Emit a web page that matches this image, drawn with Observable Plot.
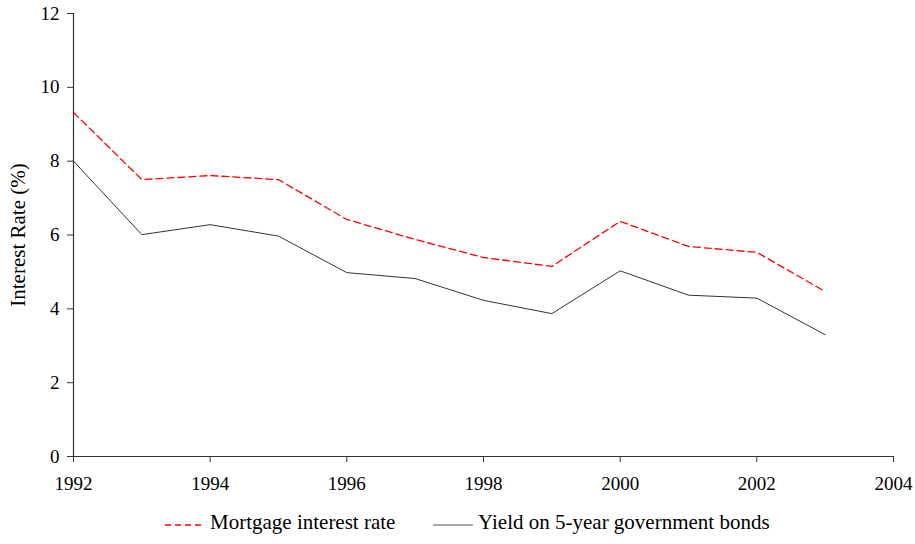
<!DOCTYPE html>
<html>
<head>
<meta charset="utf-8">
<script src="https://cdn.jsdelivr.net/npm/d3@7"></script>
<script src="https://cdn.jsdelivr.net/npm/@observablehq/plot@0.6"></script>
<style>
  body { margin: 0; background: #fff; }
  #chart { width: 915px; }
  .legend { position: relative; height: 39px; font-family: "Liberation Serif", serif; font-size: 21px; color: #000; }
  .legend svg { position: absolute; top: 15px; display: block; }
  .legend span { position: absolute; top: 5px; line-height: 24px; white-space: nowrap; }
</style>
</head>
<body>
<div id="chart"></div>
<script>
const years = [1992, 1993, 1994, 1995, 1996, 1997, 1998, 1999, 2000, 2001, 2002, 2003];
const mortgage = [9.32, 7.50, 7.61, 7.50, 6.42, 5.88, 5.39, 5.15, 6.37, 5.69, 5.53, 4.47];
const bonds = [8.00, 6.01, 6.28, 5.97, 4.98, 4.82, 4.23, 3.87, 5.03, 4.37, 4.29, 3.30];
const xTicks = [1992, 1994, 1996, 1998, 2000, 2002, 2004];
const yTicks = [0, 2, 4, 6, 8, 10, 12];
const seriesNames = ["Mortgage interest rate", "Yield on 5-year government bonds"];

const mData = years.map((y, i) => ({year: y, value: mortgage[i]}));
const bData = years.map((y, i) => ({year: y, value: bonds[i]}));

const plot = Plot.plot({
  width: 915,
  height: 505,
  marginLeft: 73,
  marginRight: 22,
  marginTop: 13,
  marginBottom: 49,
  style: {fontFamily: "Liberation Serif, serif", fontSize: "19px", color: "#000", background: "#fff"},
  x: {domain: [1992, 2004]},
  y: {domain: [0, 12]},
  marks: [
    Plot.axisX({ticks: xTicks, tickFormat: d3.format("d"), tickSize: 6, tickPadding: 14, label: null, stroke: "#333", fontSize: 19}),
    Plot.axisY({ticks: yTicks, tickSize: 6, tickPadding: 8, label: null, stroke: "#333", fontSize: 19}),
    Plot.text(["Interest Rate (%)"], {frameAnchor: "left", textAnchor: "middle", dx: -55, rotate: -90, fontSize: 21, fill: "#000"}),
    Plot.ruleY([0], {stroke: "#333", strokeWidth: 1.2}),
    Plot.ruleX([1992], {stroke: "#333", strokeWidth: 1.2}),
    Plot.line(bData, {x: "year", y: "value", stroke: "#333", strokeWidth: 1}),
    Plot.line(mData, {x: "year", y: "value", stroke: "#ff0000", strokeWidth: 1.3, strokeDasharray: "7,4"})
  ]
});
document.getElementById("chart").appendChild(plot);

const legend = document.createElement("div");
legend.className = "legend";
legend.innerHTML = `
  <svg style="left:165px" width="40" height="10"><line x1="0" y1="5" x2="40" y2="5" stroke="#ff0000" stroke-width="1.4" stroke-dasharray="6,4"/></svg>
  <span style="left:210px">${seriesNames[0]}</span>
  <svg style="left:433px" width="40" height="10"><line x1="0" y1="5" x2="40" y2="5" stroke="#555" stroke-width="1.2"/></svg>
  <span style="left:478px">${seriesNames[1]}</span>
`;
document.getElementById("chart").appendChild(legend);
</script>
</body>
</html>
